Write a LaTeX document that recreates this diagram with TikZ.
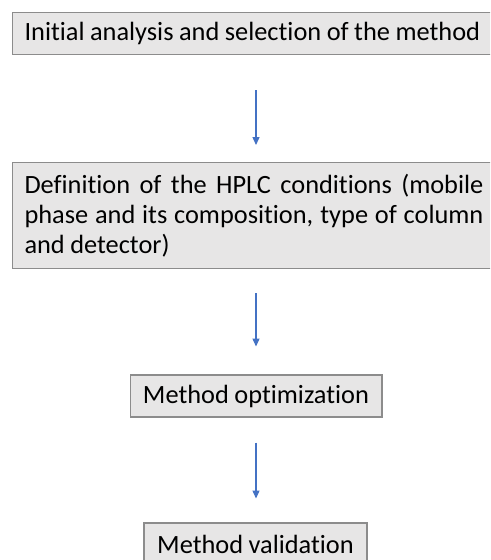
\documentclass[tikz,border=0pt]{standalone}
\usepackage{fontspec}
\setmainfont{Carlito}[Ligatures=NoCommon]
\usetikzlibrary{arrows.meta, positioning}
\definecolor{boxfill}{HTML}{E7E6E6}
\definecolor{boxline}{HTML}{8C8C8C}
\definecolor{arrblue}{HTML}{4472C4}
\newcommand{\boxfont}{\fontsize{15}{17}\selectfont
  \spaceskip=0.21em plus 2em minus 0.04em\relax}

\begin{document}
\begin{tikzpicture}[
  x = 0.02cm, y = 0.02cm,
  box/.style = {rectangle, draw=boxline, fill=boxfill, line width=0.6pt,
                inner xsep=0.24cm, inner ysep=0pt, font=\boxfont},
  arr/.style = {-{Triangle[length=4.5pt, width=4pt]}, arrblue, line width=0.6pt},
]
\clip (0,0) rectangle (490,560);
\useasboundingbox (0,0) rectangle (490,560);

\node[box, anchor=north west, text width=9.18cm, align=justify, minimum height=0.84cm]
  (init) at (12,548) {\mbox{Initial analysis and selection of the method}};
\node[box, anchor=north west, text width=9.18cm, align=justify, minimum height=2.12cm]
  (hplc) at (12,398) {Definition of the HPLC conditions (mobile\linebreak
  phase and its composition, type of column\linebreak and detector)};
\node[box, minimum width=5.04cm, minimum height=0.84cm] (optim) at (256,164) {Method optimization};
\node[box, minimum width=4.46cm, minimum height=0.84cm] (valid) at (255.5,16) {Method validation};

\draw[arr, shorten <=0.7cm, shorten >=0.34cm] (init.south -| optim.north) -- (hplc.north -| optim.north);
\draw[arr, shorten <=0.48cm, shorten >=0.56cm] (hplc.south -| optim.north) -- (optim.north);
\draw[arr, shorten <=0.5cm, shorten >=0.48cm] (optim.south) -- (valid.north -| optim.south);
\end{tikzpicture}
\end{document}
